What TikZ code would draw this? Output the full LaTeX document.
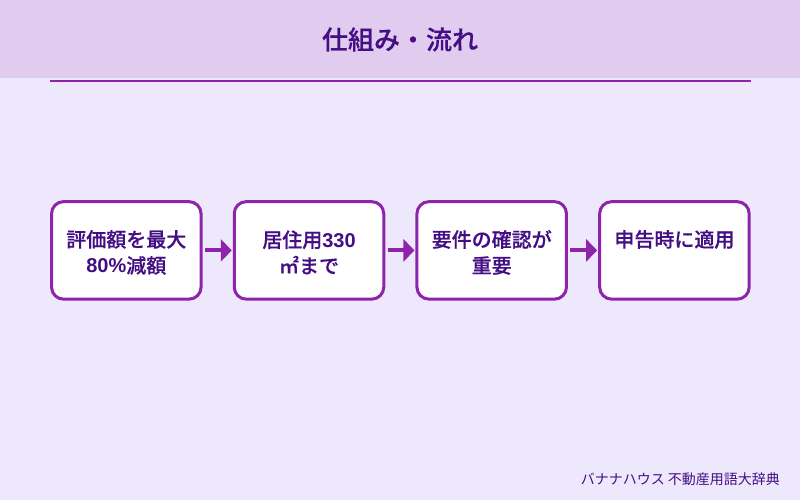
\documentclass[tikz,border=0pt]{standalone}
\usepackage{fontspec}
\setmainfont[BoldFont={Noto Sans CJK JP Medium},BoldFeatures={FakeBold=0.5}]{Noto Sans CJK JP}
\newfontfamily\latinpart[BoldFont={Liberation Sans Bold}]{Liberation Sans}
\newcommand{\lat}[1]{{\latinpart #1}}
\usetikzlibrary{arrows.meta}
\definecolor{bgc}{HTML}{EEE8FD}
\definecolor{headc}{HTML}{E1CCF0}
\definecolor{strokec}{HTML}{8E24AA}
\definecolor{textc}{HTML}{440F84}
\tikzset{
  x=1pt,y=-1pt,
  stepbox/.style={draw=strokec,line width=3pt,fill=white,rounded corners=12pt,minimum width=149.5pt,minimum height=97.5pt,inner sep=0pt,outer sep=1.5pt},
  steptext/.style={align=center,text=textc,inner sep=0pt,yshift=-2pt,font=\fontsize{20}{26}\selectfont\bfseries},
  flow/.style={draw=strokec,line width=4pt,-{Triangle[length=11pt,width=22pt]},shorten <=2.5pt,shorten >=1pt},
}
\begin{document}
\begin{tikzpicture}
\useasboundingbox (0,0) rectangle (800,500);
\fill[bgc] (0,0) rectangle (800,500);
\fill[headc] (0,0) rectangle (800,78);
\draw[strokec,line width=2pt] (50,81) -- (750.5,81);
\node[text=textc,font=\fontsize{26}{30}\selectfont\bfseries] (title) at (400,39.5) {仕組み・流れ};
\node[stepbox,label={[steptext]center:{評価額を最大\\\lat{80\%}減額}}] (a) at (126.3,250.4) {};
\node[stepbox,label={[steptext]center:{居住用\lat{330}\\㎡まで}}] (b) at (309,250.4) {};
\node[stepbox,label={[steptext]center:{要件の確認が\\重要}}] (c) at (491.7,250.4) {};
\node[stepbox,label={[steptext]center:{申告時に適用\\\vphantom{重要}}}] (d) at (674.4,250.4) {};
\draw[flow] (a) -- (b);
\draw[flow] (b) -- (c);
\draw[flow] (c) -- (d);
\node[anchor=east,text=textc,font=\fontsize{14}{16}\selectfont] (foot) at (783.5,479) {バナナハウス 不動産用語大辞典};
\end{tikzpicture}
\end{document}
